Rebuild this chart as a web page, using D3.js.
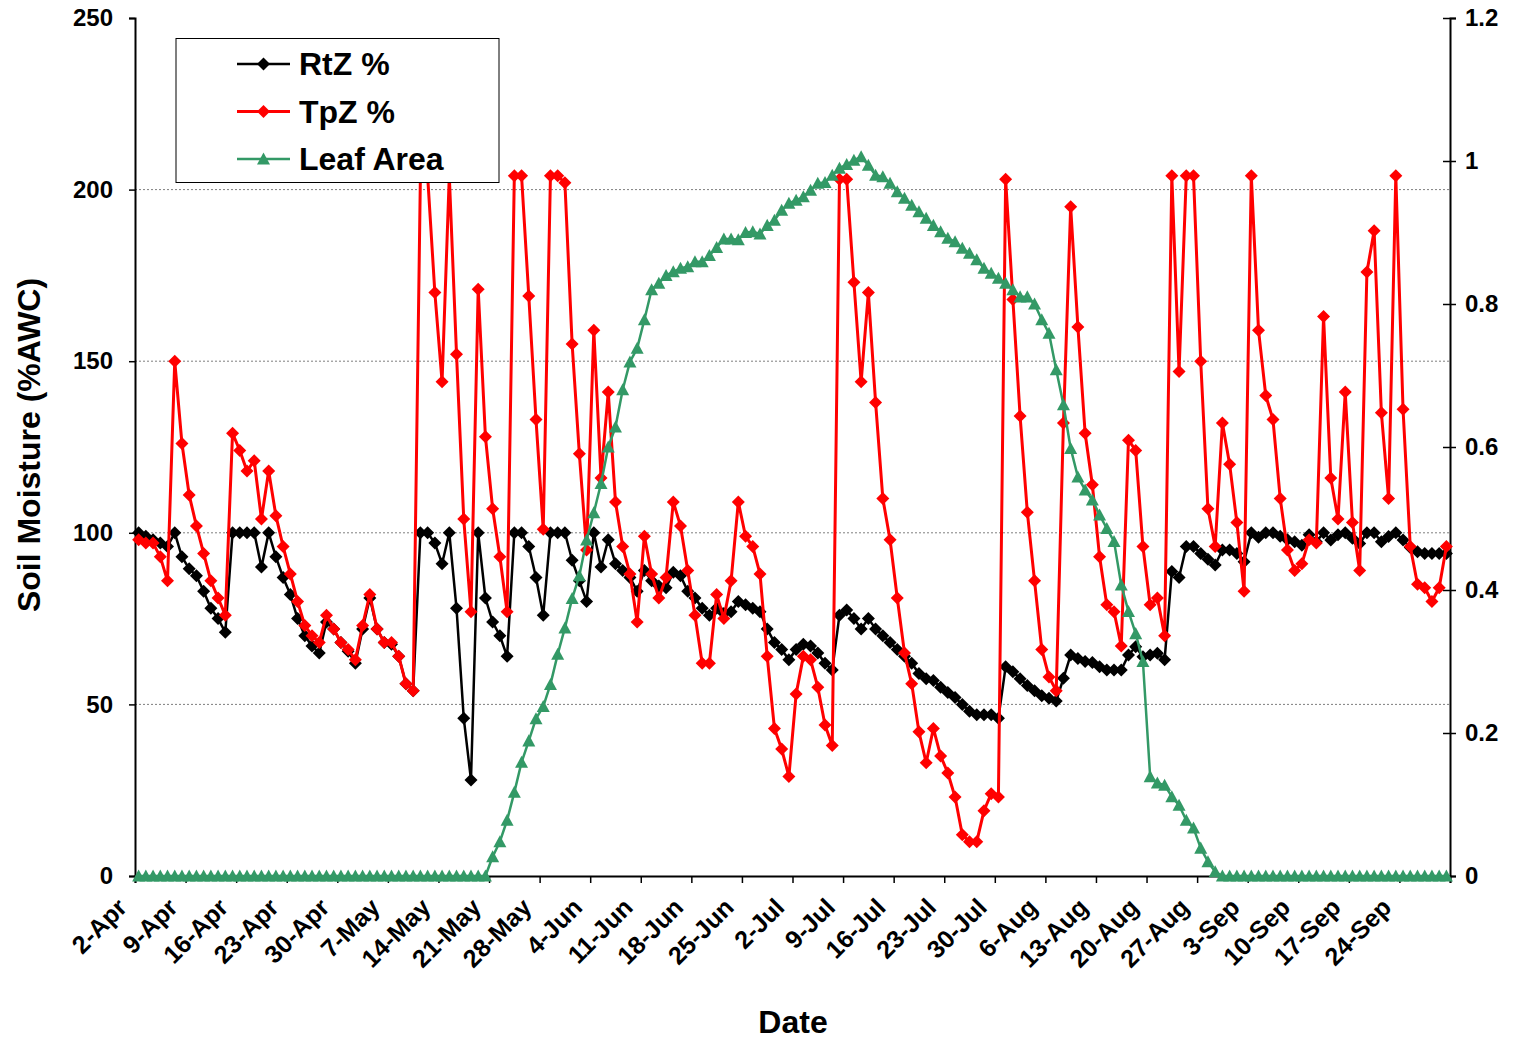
<!DOCTYPE html>
<html><head><meta charset="utf-8">
<script src="https://cdn.jsdelivr.net/npm/d3@7"></script>
<style>
html,body{margin:0;padding:0;background:#fff;}
svg{display:block;}
text{font-family:"Liberation Sans",Arial,sans-serif;font-weight:bold;fill:#000;}
</style></head>
<body>
<script>
// ---------- DATA (daily, starting 2-Apr) ----------
const startDate = [2007, 3, 2];
const rtz = [100,99,98,97,96,100,93,89.5,87.5,83,78,75,71,100,100,100,100,90,100,93,
87,82,75,70,67,65,74,72,68,65.5,62,72,81,72,68,67.5,64,56,54,100,
100,97,91,100,78,46,28,100,81,74,70,64,100,100,96,87,76,100,100,100,
92,86,80,100,90,98,91,89,87,83,89,86,84.5,84,88.5,87.5,83,81,78,76,
78,76.5,77,80,79,78,77,72,68,66,63,66,67.5,67,65,62,60,76,77.5,75,
72,75,72,70,68,66,64,62,59,57.5,57,55,53.5,52,50,48,47,47,47,46,
61,59.5,57.5,55.5,54,52.5,51.8,51,57.6,64.4,63.4,62.5,62.2,61,60,60,60,64.4,66.8,63.9,
64.4,64.9,63,88.7,87,96,96,94,92.3,90.6,95,95,94,91.6,100,98.7,100,100,99,98,
97.4,96.4,99.4,97.4,100,97.9,99.4,100,98.4,96.9,100,100,97.4,98.9,100,97.9,95.7,94.5,94,94,
94,94];
const tpz = [98,97,97,93,86,150,126,111,102,94,86,81,76,129,124,118,121,104,118,105,
96,88,80,73,70,68,76,72,68,66,63,73,82,72,68,68,64,56,54,204,
204,170,144,204,152,104,77,171,128,107,93,77,204,204,169,133,101,204,204,202,
155,123,95,159,116,141,109,96,88,74,99,88,81,87,109,102,89,76,62,62,
82,75,86,109,99,96,88,64,43,37,29,53,64,63,55,44,38,203,203,173,
144,170,138,110,98,81,65,56,42,33,43,35,30,23,12,10,10,19,24,23,
203,168,134,106,86,66,58,54,132,195,160,129,114,93,79,77,67,127,124,96,
79,81,70,204,147,204,204,150,107,96,132,120,103,83,204,159,140,133,110,95,
89,91,98,97,163,116,104,141,103,89,176,188,135,110,204,136,96,85,84,80,
84,96];
const leafArea = [0,0,0,0,0,0,0,0,0,0,0,0,0,0,0,0,0,0,0,0,
0,0,0,0,0,0,0,0,0,0,0,0,0,0,0,0,0,0,0,0,
0,0,0,0,0,0,0,0,0,0.027,0.048,0.078,0.117,0.159,0.189,0.22,0.237,0.268,0.31,0.347,
0.388,0.42,0.47,0.508,0.549,0.60,0.628,0.68,0.719,0.738,0.778,0.82,0.829,0.84,0.845,0.85,0.852,0.859,0.859,0.868,
0.879,0.891,0.891,0.89,0.90,0.901,0.898,0.91,0.917,0.931,0.941,0.945,0.95,0.959,0.969,0.97,0.98,0.99,0.995,1.001,
1.006,0.994,0.98,0.978,0.969,0.957,0.948,0.938,0.929,0.92,0.91,0.901,0.892,0.887,0.878,0.871,0.862,0.85,0.843,0.836,
0.829,0.82,0.81,0.81,0.80,0.778,0.759,0.708,0.659,0.598,0.558,0.54,0.526,0.505,0.486,0.468,0.407,0.37,0.339,0.30,
0.139,0.13,0.127,0.111,0.099,0.078,0.067,0.039,0.02,0.006,0,0,0,0,0,0,0,0,0,0,
0,0,0,0,0,0,0,0,0,0,0,0,0,0,0,0,0,0,0,0,
0,0];
const xTickLabels = ["2-Apr","9-Apr","16-Apr","23-Apr","30-Apr","7-May","14-May","21-May","28-May","4-Jun","11-Jun","18-Jun","25-Jun","2-Jul","9-Jul","16-Jul","23-Jul","30-Jul","6-Aug","13-Aug","20-Aug","27-Aug","3-Sep","10-Sep","17-Sep","24-Sep"];
const yLeftTicks = [0,50,100,150,200,250];
const yRightTicks = [0,0.2,0.4,0.6,0.8,1,1.2];
const seriesNames = ["RtZ %","TpZ %","Leaf Area"];
const seriesColors = ["#000000","#FF0000","#339966"];

// ---------- LAYOUT ----------
const W = 1517, H = 1040;
const m = {left:135, right:1450, top:18, bottom:876};
const dayMs = 86400000;
const t0 = Date.UTC(startDate[0], startDate[1], startDate[2]);
const dateOf = (i, h) => new Date(t0 + i*dayMs + (h||0)*3600000);
const FONT = "'Liberation Sans',Arial,sans-serif";

const svg = d3.select("body").append("svg").attr("width", W).attr("height", H);

const x = d3.scaleUtc().domain([dateOf(0), dateOf(182)]).range([m.left, m.right]);
const yL = d3.scaleLinear().domain([0,250]).range([m.bottom, m.top]);
const yR = d3.scaleLinear().domain([0,1.2]).range([m.bottom, m.top]);

// gridlines
svg.append("g").selectAll("line").data(yLeftTicks.filter(v => v>0 && v<250)).join("line")
  .attr("x1", m.left).attr("x2", m.right).attr("y1", d=>yL(d)).attr("y2", d=>yL(d))
  .attr("stroke","#7f7f7f").attr("stroke-width",1).attr("stroke-dasharray","2,2");

// left axis
const gL = svg.append("g").attr("transform",`translate(${m.left},0)`)
  .call(d3.axisLeft(yL).tickValues(yLeftTicks).tickSize(6).tickPadding(16).tickFormat(d3.format("d")));
gL.select(".domain").attr("stroke","#000").attr("stroke-width",2);
gL.selectAll(".tick line").attr("stroke","#000").attr("stroke-width",1.5);
gL.selectAll(".tick text").style("font-size","24px").style("font-family",FONT).style("font-weight","bold");

// right axis (crossing ticks)
const gR = svg.append("g").attr("transform",`translate(${m.right},0)`)
  .call(d3.axisRight(yR).tickValues(yRightTicks).tickSize(6).tickPadding(9).tickFormat(d => d===0||d===1 ? String(d) : d3.format(".1f")(d)));
gR.select(".domain").attr("stroke","#000").attr("stroke-width",2);
gR.selectAll(".tick line").attr("x1",-7).attr("stroke","#000").attr("stroke-width",1.5);
gR.selectAll(".tick text").style("font-size","24px").style("font-family",FONT).style("font-weight","bold");

// bottom axis
const tickDates = d3.range(0, 183, 7).map(i => dateOf(i));
const gB = svg.append("g").attr("transform",`translate(0,${m.bottom})`)
  .call(d3.axisBottom(x).tickValues(tickDates).tickSize(7).tickFormat((d,i) => xTickLabels[i] || ""));
gB.select(".domain").attr("stroke","#000").attr("stroke-width",2);
gB.selectAll(".tick line").attr("stroke","#000").attr("stroke-width",1.5);
gB.selectAll(".tick text")
  .style("font-size","25px").style("font-family",FONT).style("font-weight","bold")
  .attr("text-anchor","end").attr("dy",null).attr("y",0)
  .attr("transform","translate(-7,33) rotate(-45)");

// ---------- SERIES ----------
const diamond = r => `M0,${-r}L${r},0L0,${r}L${-r},0Z`;
const triangle = r => `M0,${-r}L${r},${r*0.85}L${-r},${r*0.85}Z`;

function drawSeries(values, yScale, color, lw, markerPath) {
  const pts = values.map((v,i) => [x(dateOf(i,12)), yScale(v)]);
  const g = svg.append("g");
  g.append("path").attr("d", d3.line()(pts)).attr("fill","none")
    .attr("stroke",color).attr("stroke-width",lw).attr("stroke-linejoin","round");
  g.selectAll("path.mk").data(pts).join("path").attr("class","mk")
    .attr("transform", d => `translate(${d[0]},${d[1]})`)
    .attr("d", markerPath).attr("fill", color);
}
drawSeries(rtz, yL, seriesColors[0], 2.5, diamond(6.5));
drawSeries(tpz, yL, seriesColors[1], 3, diamond(6.5));
drawSeries(leafArea, yR, seriesColors[2], 2.5, triangle(6.5));

// ---------- LEGEND ----------
const lg = svg.append("g");
lg.append("rect").attr("x",176).attr("y",38.5).attr("width",323).attr("height",144)
  .attr("fill","#fff").attr("stroke","#000").attr("stroke-width",1);
const lmk = [diamond(6.5), diamond(6.5), triangle(6.5)];
seriesNames.forEach((name,i) => {
  const yy = 64 + i*47.5;
  lg.append("line").attr("x1",237).attr("x2",290).attr("y1",yy).attr("y2",yy)
    .attr("stroke",seriesColors[i]).attr("stroke-width", i===1?3:2.5);
  lg.append("path").attr("d",lmk[i]).attr("transform",`translate(263.5,${yy})`).attr("fill",seriesColors[i]);
  lg.append("text").attr("x",299).attr("y",yy+11).style("font-size","32px").text(name);
});

// ---------- TITLES ----------
svg.append("text").attr("transform","translate(40,445) rotate(-90)").attr("text-anchor","middle")
  .style("font-size","32px").text("Soil Moisture (%AWC)");
svg.append("text").attr("x",793).attr("y",1033).attr("text-anchor","middle")
  .style("font-size","32px").text("Date");
</script>
</body></html>
